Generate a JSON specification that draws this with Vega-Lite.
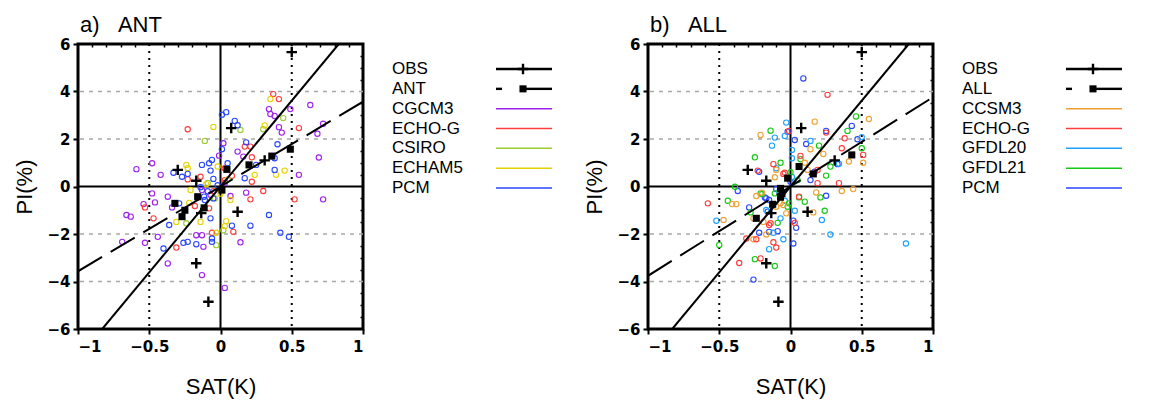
{
"$schema": "https://vega.github.io/schema/vega-lite/v6.json",
"background": "white",
"padding": {"left": 12, "top": 12, "right": 5, "bottom": 2},
"config": {
  "font": "Liberation Sans",
  "view": {"stroke": "black", "strokeWidth": 3},
  "axis": {"domain": false, "grid": false, "labelFont": "DejaVu Sans", "labelFontWeight": "bold", "labelFontSize": 15, "labelColor": "black", "tickColor": "black", "tickWidth": 2, "tickSize": 5, "titleFont": "Liberation Sans", "titleFontSize": 22, "titleFontWeight": "normal", "titleColor": "black"},
  "title": {"font": "Liberation Sans", "fontSize": 22, "fontWeight": "normal", "anchor": "start", "color": "black", "frame": "group"}
},
"datasets": {
  "obs": [
    {"x":0.5,"y":5.66},{"x":0.075,"y":2.46},{"x":-0.30,"y":0.70},{"x":-0.17,"y":0.24},{"x":0.31,"y":1.10},
    {"x":-0.135,"y":-1.12},{"x":0.12,"y":-1.06},{"x":-0.17,"y":-3.23},{"x":-0.085,"y":-4.85}
  ],
  "sqa": [
    {"x":0.49,"y":1.57},{"x":0.36,"y":1.28},{"x":0.20,"y":0.91},{"x":0.045,"y":0.72},{"x":0.01,"y":-0.15},
    {"x":-0.16,"y":-0.43},{"x":-0.115,"y":-0.9},{"x":-0.32,"y":-0.71},{"x":-0.25,"y":-1.0},{"x":-0.27,"y":-1.27}
  ],
  "sqb": [
    {"x":0.43,"y":1.33},{"x":0.16,"y":0.53},{"x":0.06,"y":0.84},{"x":-0.02,"y":0.35},{"x":-0.07,"y":-0.08},
    {"x":-0.06,"y":-0.3},{"x":-0.07,"y":-0.45},{"x":-0.125,"y":-0.75},{"x":-0.24,"y":-1.34}
  ],
  "fitobs": [{"x":-0.83,"y":-6},{"x":0.83,"y":6}],
  "fita": [{"x":-1,"y":-3.57},{"x":1,"y":3.57}],
  "fitb": [{"x":-1,"y":-3.76},{"x":1,"y":3.76}],
  "hgrid": [{"x":0,"y":-4},{"x":0,"y":-2},{"x":0,"y":2},{"x":0,"y":4}],
  "vgrid": [{"x":-0.5,"y":0},{"x":0.5,"y":0}],
  "zero": [{"x":0,"y":0}],
  "pa": [
    {"m":"CGCM3","x":-0.59,"y":0.73},{"m":"CGCM3","x":-0.48,"y":0.98},{"m":"CGCM3","x":-0.42,"y":0.49},{"m":"CGCM3","x":0.02,"y":1.82},{"m":"CGCM3","x":-0.01,"y":1.30},{"m":"CGCM3","x":0.12,"y":1.47},{"m":"CGCM3","x":0.16,"y":1.26},{"m":"CGCM3","x":0.34,"y":3.26},{"m":"CGCM3","x":0.35,"y":3.05},{"m":"CGCM3","x":0.38,"y":2.97},{"m":"CGCM3","x":0.49,"y":3.26},{"m":"CGCM3","x":0.63,"y":3.43},{"m":"CGCM3","x":0.72,"y":2.64},{"m":"CGCM3","x":0.68,"y":2.22},{"m":"CGCM3","x":0.41,"y":2.50},{"m":"CGCM3","x":0.43,"y":2.27},{"m":"CGCM3","x":0.69,"y":1.22},{"m":"CGCM3","x":0.55,"y":0.49},{"m":"CGCM3","x":0.18,"y":-0.26},{"m":"CGCM3","x":-0.48,"y":-0.29},{"m":"CGCM3","x":-0.37,"y":-0.43},{"m":"CGCM3","x":-0.54,"y":-0.74},{"m":"CGCM3","x":-0.46,"y":-0.67},{"m":"CGCM3","x":-0.66,"y":-1.20},{"m":"CGCM3","x":-0.63,"y":-1.27},{"m":"CGCM3","x":-0.69,"y":-2.33},{"m":"CGCM3","x":-0.53,"y":-2.37},{"m":"CGCM3","x":-0.44,"y":-2.12},{"m":"CGCM3","x":-0.34,"y":-0.88},{"m":"CGCM3","x":-0.17,"y":-2.05},{"m":"CGCM3","x":-0.13,"y":-2.05},{"m":"CGCM3","x":-0.12,"y":-2.54},{"m":"CGCM3","x":-0.37,"y":-3.24},{"m":"CGCM3","x":-0.13,"y":-3.73},{"m":"CGCM3","x":0.03,"y":-4.27},{"m":"CGCM3","x":0.14,"y":-2.35},{"m":"CGCM3","x":0.07,"y":-0.40},{"m":"CGCM3","x":0.72,"y":-0.54},{"m":"CGCM3","x":-0.07,"y":-0.35},{"m":"CGCM3","x":-0.13,"y":-0.15},{"m":"CGCM3","x":0.03,"y":0.15},
    {"m":"ECHO-G","x":-0.23,"y":2.41},{"m":"ECHO-G","x":0.37,"y":3.89},{"m":"ECHO-G","x":0.41,"y":3.68},{"m":"ECHO-G","x":0.55,"y":2.46},{"m":"ECHO-G","x":0.17,"y":1.68},{"m":"ECHO-G","x":0.21,"y":1.68},{"m":"ECHO-G","x":0.22,"y":1.23},{"m":"ECHO-G","x":0.22,"y":0.20},{"m":"ECHO-G","x":0.30,"y":-0.19},{"m":"ECHO-G","x":0.03,"y":0.27},{"m":"ECHO-G","x":-0.14,"y":0.41},{"m":"ECHO-G","x":-0.53,"y":-0.88},{"m":"ECHO-G","x":-0.47,"y":-1.34},{"m":"ECHO-G","x":-0.31,"y":-2.57},{"m":"ECHO-G","x":-0.18,"y":-0.82},{"m":"ECHO-G","x":-0.08,"y":-0.92},{"m":"ECHO-G","x":-0.06,"y":-1.95},{"m":"ECHO-G","x":0.09,"y":-1.91},{"m":"ECHO-G","x":0.21,"y":-0.54},{"m":"ECHO-G","x":0.52,"y":-0.54},{"m":"ECHO-G","x":0.03,"y":0.77},{"m":"ECHO-G","x":-0.05,"y":-0.2},{"m":"ECHO-G","x":0.08,"y":0.45},{"m":"ECHO-G","x":-0.23,"y":0.30},
    {"m":"CSIRO","x":-0.11,"y":1.92},{"m":"CSIRO","x":0.14,"y":2.38},{"m":"CSIRO","x":0.30,"y":2.41},{"m":"CSIRO","x":0.44,"y":2.88},{"m":"CSIRO","x":-0.03,"y":-2.47},{"m":"CSIRO","x":0.02,"y":-1.84},{"m":"CSIRO","x":-0.24,"y":-1.55},{"m":"CSIRO","x":-0.09,"y":0.15},{"m":"CSIRO","x":0.05,"y":0.3},{"m":"CSIRO","x":-0.04,"y":-0.5},
    {"m":"ECHAM5","x":-0.05,"y":2.51},{"m":"ECHAM5","x":0.35,"y":3.68},{"m":"ECHAM5","x":0.31,"y":2.57},{"m":"ECHAM5","x":0.24,"y":0.49},{"m":"ECHAM5","x":0.39,"y":0.49},{"m":"ECHAM5","x":0.45,"y":0.67},{"m":"ECHAM5","x":-0.24,"y":0.91},{"m":"ECHAM5","x":-0.23,"y":0.77},{"m":"ECHAM5","x":-0.02,"y":0.84},{"m":"ECHAM5","x":0.07,"y":-0.57},{"m":"ECHAM5","x":-0.14,"y":-1.49},{"m":"ECHAM5","x":-0.31,"y":-1.49},{"m":"ECHAM5","x":-0.03,"y":-1.95},{"m":"ECHAM5","x":0.04,"y":-1.46},{"m":"ECHAM5","x":0.03,"y":-1.67},{"m":"ECHAM5","x":-0.21,"y":-0.15},{"m":"ECHAM5","x":-0.22,"y":-0.69},{"m":"ECHAM5","x":0.0,"y":-0.3},{"m":"ECHAM5","x":-0.1,"y":0.1},
    {"m":"PCM","x":0.01,"y":3.02},{"m":"PCM","x":0.04,"y":3.13},{"m":"PCM","x":0.10,"y":2.76},{"m":"PCM","x":0.12,"y":2.58},{"m":"PCM","x":0.01,"y":1.57},{"m":"PCM","x":0.18,"y":1.86},{"m":"PCM","x":0.40,"y":1.78},{"m":"PCM","x":0.38,"y":1.19},{"m":"PCM","x":0.38,"y":0.70},{"m":"PCM","x":0.17,"y":0.35},{"m":"PCM","x":-0.33,"y":0.58},{"m":"PCM","x":-0.27,"y":0.41},{"m":"PCM","x":-0.23,"y":0.53},{"m":"PCM","x":-0.13,"y":0.91},{"m":"PCM","x":-0.08,"y":0.98},{"m":"PCM","x":-0.06,"y":1.12},{"m":"PCM","x":-0.07,"y":0.67},{"m":"PCM","x":-0.05,"y":0.32},{"m":"PCM","x":0.05,"y":0.98},{"m":"PCM","x":-0.14,"y":-0.03},{"m":"PCM","x":0.25,"y":0.91},{"m":"PCM","x":-0.36,"y":-1.62},{"m":"PCM","x":-0.40,"y":-2.61},{"m":"PCM","x":-0.26,"y":-2.37},{"m":"PCM","x":-0.23,"y":-2.33},{"m":"PCM","x":-0.17,"y":-2.43},{"m":"PCM","x":-0.06,"y":-2.19},{"m":"PCM","x":-0.06,"y":-2.33},{"m":"PCM","x":-0.07,"y":-1.34},{"m":"PCM","x":0.08,"y":-1.65},{"m":"PCM","x":0.21,"y":-1.65},{"m":"PCM","x":0.34,"y":-1.20},{"m":"PCM","x":0.42,"y":-1.95},{"m":"PCM","x":0.48,"y":-2.12},{"m":"PCM","x":-0.29,"y":-0.71},{"m":"PCM","x":-0.11,"y":-0.57},{"m":"PCM","x":-0.05,"y":-0.50},{"m":"PCM","x":-0.115,"y":-0.43},{"m":"PCM","x":-0.09,"y":-0.2},{"m":"PCM","x":-0.02,"y":0.05}
  ],
  "pb": [
    {"m":"PCM","x":0.09,"y":4.55},{"m":"PCM","x":0.25,"y":2.34},{"m":"PCM","x":0.03,"y":1.96},{"m":"PCM","x":0.11,"y":1.79},{"m":"PCM","x":0.43,"y":2.55},{"m":"PCM","x":0.47,"y":1.99},{"m":"PCM","x":0.33,"y":0.94},{"m":"PCM","x":0.14,"y":0.27},{"m":"PCM","x":0.25,"y":-0.39},{"m":"PCM","x":-0.37,"y":-0.19},{"m":"PCM","x":-0.22,"y":0.62},{"m":"PCM","x":-0.02,"y":2.31},{"m":"PCM","x":-0.26,"y":-3.92},{"m":"PCM","x":0.02,"y":-2.40},{"m":"PCM","x":-0.22,"y":-1.95},{"m":"PCM","x":-0.15,"y":-1.91},{"m":"PCM","x":-0.09,"y":-1.88},{"m":"PCM","x":0.04,"y":-1.74},{"m":"PCM","x":-0.29,"y":-0.88},{"m":"PCM","x":-0.17,"y":-0.50},{"m":"PCM","x":-0.18,"y":-0.46},{"m":"PCM","x":0.17,"y":0.62},{"m":"PCM","x":-0.16,"y":-1.06},{"m":"PCM","x":-0.15,"y":-0.57},{"m":"PCM","x":0.02,"y":-1.44},{"m":"PCM","x":-0.1,"y":-0.1},{"m":"PCM","x":0.0,"y":0.2},
    {"m":"GFDL20","x":-0.03,"y":2.69},{"m":"GFDL20","x":-0.11,"y":2.06},{"m":"GFDL20","x":-0.13,"y":1.72},{"m":"GFDL20","x":-0.04,"y":2.13},{"m":"GFDL20","x":0.01,"y":1.54},{"m":"GFDL20","x":0.50,"y":2.08},{"m":"GFDL20","x":0.14,"y":1.92},{"m":"GFDL20","x":-0.10,"y":0.77},{"m":"GFDL20","x":0.01,"y":1.19},{"m":"GFDL20","x":0.34,"y":0.96},{"m":"GFDL20","x":-0.52,"y":-1.44},{"m":"GFDL20","x":-0.15,"y":-2.64},{"m":"GFDL20","x":-0.05,"y":-2.22},{"m":"GFDL20","x":-0.12,"y":-1.95},{"m":"GFDL20","x":0.03,"y":-1.02},{"m":"GFDL20","x":0.22,"y":-1.41},{"m":"GFDL20","x":0.28,"y":-2.02},{"m":"GFDL20","x":0.81,"y":-2.40},{"m":"GFDL20","x":-0.17,"y":-0.99},{"m":"GFDL20","x":-0.07,"y":-1.34},{"m":"GFDL20","x":-0.08,"y":-0.22},{"m":"GFDL20","x":0.01,"y":0.4},{"m":"GFDL20","x":-0.04,"y":-0.6},
    {"m":"GFDL21","x":-0.14,"y":2.35},{"m":"GFDL21","x":-0.25,"y":1.23},{"m":"GFDL21","x":-0.07,"y":1.0},{"m":"GFDL21","x":0.46,"y":2.95},{"m":"GFDL21","x":0.40,"y":2.34},{"m":"GFDL21","x":0.20,"y":1.72},{"m":"GFDL21","x":0.50,"y":1.61},{"m":"GFDL21","x":0.28,"y":0.84},{"m":"GFDL21","x":0.25,"y":0.46},{"m":"GFDL21","x":0.07,"y":1.15},{"m":"GFDL21","x":-0.39,"y":-0.01},{"m":"GFDL21","x":-0.44,"y":-0.60},{"m":"GFDL21","x":-0.50,"y":-2.46},{"m":"GFDL21","x":-0.25,"y":-3.06},{"m":"GFDL21","x":-0.11,"y":-3.35},{"m":"GFDL21","x":-0.09,"y":-1.53},{"m":"GFDL21","x":0.10,"y":-0.64},{"m":"GFDL21","x":0.21,"y":-0.46},{"m":"GFDL21","x":0.24,"y":-1.02},{"m":"GFDL21","x":-0.20,"y":-0.32},{"m":"GFDL21","x":0.06,"y":-0.46},{"m":"GFDL21","x":-0.02,"y":-0.85},{"m":"GFDL21","x":0.05,"y":0.27},{"m":"GFDL21","x":-0.28,"y":-1.09},{"m":"GFDL21","x":-0.21,"y":-0.29},{"m":"GFDL21","x":-0.11,"y":-0.29},{"m":"GFDL21","x":-0.01,"y":-0.71},{"m":"GFDL21","x":0.0,"y":0.6},
    {"m":"CCSM3","x":-0.21,"y":2.17},{"m":"CCSM3","x":0.17,"y":2.73},{"m":"CCSM3","x":0.55,"y":2.84},{"m":"CCSM3","x":0.23,"y":1.37},{"m":"CCSM3","x":0.14,"y":1.57},{"m":"CCSM3","x":0.41,"y":1.05},{"m":"CCSM3","x":0.51,"y":1.00},{"m":"CCSM3","x":0.18,"y":-0.25},{"m":"CCSM3","x":0.36,"y":-0.19},{"m":"CCSM3","x":0.44,"y":-0.11},{"m":"CCSM3","x":-0.11,"y":0.39},{"m":"CCSM3","x":0.10,"y":1.0},{"m":"CCSM3","x":-0.47,"y":-1.41},{"m":"CCSM3","x":-0.41,"y":-0.74},{"m":"CCSM3","x":-0.38,"y":-0.74},{"m":"CCSM3","x":0.16,"y":-1.09},{"m":"CCSM3","x":-0.05,"y":-0.78},{"m":"CCSM3","x":-0.03,"y":-1.13},{"m":"CCSM3","x":-0.19,"y":-1.49},{"m":"CCSM3","x":-0.24,"y":-0.40},{"m":"CCSM3","x":-0.17,"y":-2.02},{"m":"CCSM3","x":-0.20,"y":-0.26},{"m":"CCSM3","x":-0.10,"y":0.70},{"m":"CCSM3","x":0.12,"y":0.70},{"m":"CCSM3","x":-0.26,"y":-2.22},{"m":"CCSM3","x":-0.26,"y":-1.34},{"m":"CCSM3","x":-0.10,"y":-0.85},{"m":"CCSM3","x":-0.07,"y":-0.7},
    {"m":"ECHO-G","x":0.26,"y":3.86},{"m":"ECHO-G","x":0.25,"y":2.27},{"m":"ECHO-G","x":0.38,"y":2.03},{"m":"ECHO-G","x":0.36,"y":1.61},{"m":"ECHO-G","x":0.51,"y":1.33},{"m":"ECHO-G","x":0.07,"y":1.29},{"m":"ECHO-G","x":-0.01,"y":2.34},{"m":"ECHO-G","x":-0.12,"y":0.94},{"m":"ECHO-G","x":-0.23,"y":0.67},{"m":"ECHO-G","x":0.34,"y":0.14},{"m":"ECHO-G","x":0.19,"y":0.14},{"m":"ECHO-G","x":-0.04,"y":0.58},{"m":"ECHO-G","x":-0.58,"y":-0.71},{"m":"ECHO-G","x":-0.36,"y":-3.22},{"m":"ECHO-G","x":-0.21,"y":-3.03},{"m":"ECHO-G","x":-0.31,"y":-2.19},{"m":"ECHO-G","x":-0.24,"y":-2.22},{"m":"ECHO-G","x":-0.10,"y":-2.57},{"m":"ECHO-G","x":-0.12,"y":-2.35},{"m":"ECHO-G","x":0.03,"y":-1.53},{"m":"ECHO-G","x":-0.15,"y":-1.62},{"m":"ECHO-G","x":-0.05,"y":0.53},{"m":"ECHO-G","x":0.06,"y":-0.43},{"m":"ECHO-G","x":0.19,"y":0.70},{"m":"ECHO-G","x":-0.14,"y":-1.55}
  ],
  "lega": [{"label":"OBS","kind":"obs"},{"label":"ANT","kind":"fit"},{"label":"CGCM3","kind":"model"},{"label":"ECHO-G","kind":"model"},{"label":"CSIRO","kind":"model"},{"label":"ECHAM5","kind":"model"},{"label":"PCM","kind":"model"}],
  "legb": [{"label":"OBS","kind":"obs"},{"label":"ALL","kind":"fit"},{"label":"CCSM3","kind":"model"},{"label":"ECHO-G","kind":"model"},{"label":"GFDL20","kind":"model"},{"label":"GFDL21","kind":"model"},{"label":"PCM","kind":"model"}]
},
"spacing": 23,
"bounds": "flush",
"hconcat": [
  {"width": 285, "height": 285,
   "title": {"text": "a)\u00a0\u00a0\u00a0ANT", "offset": 0, "dx": 2},
   "resolve": {"axis": {"x": "independent", "y": "independent"}},
   "encoding": {
     "x": {"field": "x", "type": "quantitative", "scale": {"domain": [-1, 1], "nice": false}, "axis": null},
     "y": {"field": "y", "type": "quantitative", "scale": {"domain": [-6, 6], "nice": false}, "axis": null}
   },
   "layer": [
    {"data": {"name": "hgrid"}, "mark": {"type": "rule", "color": "#a8a8a8", "strokeDash": [4, 5], "strokeWidth": 1.5},
     "encoding": {"x": null, "y": {"field": "y", "type": "quantitative", "axis": {"orient": "right", "values": [-5.5,-5,-4.5,-3.5,-3,-2.5,-1.5,-1,-0.5,0.5,1,1.5,2.5,3,3.5,4.5,5,5.5], "labels": false, "title": null, "tickSize": -3, "tickWidth": 1.5}}}},
    {"data": {"name": "vgrid"}, "mark": {"type": "rule", "color": "black", "strokeDash": [2, 5], "strokeWidth": 2},
     "encoding": {"y": null, "x": {"field": "x", "type": "quantitative", "axis": {"orient": "top", "values": [-0.9,-0.8,-0.7,-0.6,-0.4,-0.3,-0.2,-0.1,0.1,0.2,0.3,0.4,0.6,0.7,0.8,0.9], "labels": false, "title": null, "tickSize": -3, "tickWidth": 1.5}}}},
    {"data": {"name": "zero"}, "mark": {"type": "rule", "color": "black", "strokeWidth": 2}, "encoding": {"y": null}},
    {"data": {"name": "zero"}, "mark": {"type": "rule", "color": "black", "strokeWidth": 2}, "encoding": {"x": null}},
    {"data": {"name": "pa"}, "mark": {"type": "point", "filled": false, "size": 28, "strokeWidth": 1.1, "opacity": 1},
     "encoding": {
      "x": {"field": "x", "type": "quantitative", "axis": {"title": "SAT(K)", "values": [-1, -0.5, 0, 0.5, 1], "format": "~g", "labelPadding": 5, "titlePadding": 22}},
      "y": {"field": "y", "type": "quantitative", "axis": {"title": "PI(%)", "values": [-6, -4, -2, 0, 2, 4, 6], "format": "~g", "labelPadding": 3, "titlePadding": 10}},
      "color": {"field": "m", "type": "nominal", "legend": null, "scale": {"domain": ["CGCM3", "ECHO-G", "CSIRO", "ECHAM5", "PCM", "CCSM3", "GFDL20", "GFDL21"], "range": ["#a020f0", "#ff3c3c", "#9acd32", "#e6d200", "#2846ff", "#f0a030", "#1ea0ff", "#14c814"]}}}},
    {"data": {"name": "fitobs"}, "mark": {"type": "line", "color": "black", "strokeWidth": 2, "clip": true}},
    {"data": {"name": "fita"}, "mark": {"type": "line", "color": "black", "strokeWidth": 2, "strokeDash": [28, 10], "clip": true}},
    {"data": {"name": "sqa"}, "mark": {"type": "point", "shape": "square", "filled": true, "size": 50, "color": "black", "opacity": 1}},
    {"data": {"name": "obs"}, "mark": {"type": "point", "shape": "M-1,0H1M0,-1V1", "filled": false, "size": 110, "strokeWidth": 2.4, "color": "black", "opacity": 1}}
   ]},
  {"width": 239, "height": 169,
   "view": {"stroke": null},
   "data": {"name": "lega"},
   "encoding": {"y": {"field": "label", "type": "ordinal", "axis": null, "scale": {"type": "band", "domain": ["OBS", "ANT", "CGCM3", "ECHO-G", "CSIRO", "ECHAM5", "PCM"], "paddingInner": 0, "paddingOuter": 0.763}}},
   "layer": [
    {"mark": {"type": "text", "align": "left", "baseline": "middle", "fontSize": 17, "font": "Liberation Sans", "color": "black"},
     "encoding": {"x": {"datum": 6, "type": "quantitative", "scale": {"domain": [0, 239]}, "axis": null}, "text": {"field": "label"}}},
    {"transform": [{"filter": "datum.kind === 'model'"}], "mark": {"type": "rule", "strokeWidth": 1.5},
     "encoding": {"x": {"datum": 110, "type": "quantitative", "scale": {"domain": [0, 239]}, "axis": null}, "x2": {"datum": 166}, "color": {"field": "label", "type": "nominal", "legend": null, "scale": {"domain": ["CGCM3", "ECHO-G", "CSIRO", "ECHAM5", "PCM", "CCSM3", "GFDL20", "GFDL21"], "range": ["#a020f0", "#ff3c3c", "#9acd32", "#e6d200", "#2846ff", "#f0a030", "#1ea0ff", "#14c814"]}}}},
    {"transform": [{"filter": "datum.kind === 'obs'"}], "mark": {"type": "rule", "strokeWidth": 2.4, "color": "black"},
     "encoding": {"x": {"datum": 110, "type": "quantitative", "scale": {"domain": [0, 239]}, "axis": null}, "x2": {"datum": 166}}},
    {"transform": [{"filter": "datum.kind === 'obs'"}], "mark": {"type": "point", "shape": "M-1,0H1M0,-1V1", "filled": false, "size": 110, "strokeWidth": 2.4, "color": "black", "opacity": 1},
     "encoding": {"x": {"datum": 137, "type": "quantitative", "scale": {"domain": [0, 239]}, "axis": null}}},
    {"transform": [{"filter": "datum.kind === 'fit'"}], "mark": {"type": "rule", "strokeWidth": 2.4, "color": "black"},
     "encoding": {"x": {"datum": 110, "type": "quantitative", "scale": {"domain": [0, 239]}, "axis": null}, "x2": {"datum": 116}}},
    {"transform": [{"filter": "datum.kind === 'fit'"}], "mark": {"type": "rule", "strokeWidth": 2.4, "color": "black"},
     "encoding": {"x": {"datum": 140, "type": "quantitative", "scale": {"domain": [0, 239]}, "axis": null}, "x2": {"datum": 166}}},
    {"transform": [{"filter": "datum.kind === 'fit'"}], "mark": {"type": "point", "shape": "square", "filled": true, "size": 50, "color": "black", "opacity": 1},
     "encoding": {"x": {"datum": 137, "type": "quantitative", "scale": {"domain": [0, 239]}, "axis": null}}}
   ]},
  {"width": 285, "height": 285,
   "title": {"text": "b)\u00a0\u00a0\u00a0ALL", "offset": 0, "dx": 2},
   "resolve": {"axis": {"x": "independent", "y": "independent"}},
   "encoding": {
     "x": {"field": "x", "type": "quantitative", "scale": {"domain": [-1, 1], "nice": false}, "axis": null},
     "y": {"field": "y", "type": "quantitative", "scale": {"domain": [-6, 6], "nice": false}, "axis": null}
   },
   "layer": [
    {"data": {"name": "hgrid"}, "mark": {"type": "rule", "color": "#a8a8a8", "strokeDash": [4, 5], "strokeWidth": 1.5},
     "encoding": {"x": null, "y": {"field": "y", "type": "quantitative", "axis": {"orient": "right", "values": [-5.5,-5,-4.5,-3.5,-3,-2.5,-1.5,-1,-0.5,0.5,1,1.5,2.5,3,3.5,4.5,5,5.5], "labels": false, "title": null, "tickSize": -3, "tickWidth": 1.5}}}},
    {"data": {"name": "vgrid"}, "mark": {"type": "rule", "color": "black", "strokeDash": [2, 5], "strokeWidth": 2},
     "encoding": {"y": null, "x": {"field": "x", "type": "quantitative", "axis": {"orient": "top", "values": [-0.9,-0.8,-0.7,-0.6,-0.4,-0.3,-0.2,-0.1,0.1,0.2,0.3,0.4,0.6,0.7,0.8,0.9], "labels": false, "title": null, "tickSize": -3, "tickWidth": 1.5}}}},
    {"data": {"name": "zero"}, "mark": {"type": "rule", "color": "black", "strokeWidth": 2}, "encoding": {"y": null}},
    {"data": {"name": "zero"}, "mark": {"type": "rule", "color": "black", "strokeWidth": 2}, "encoding": {"x": null}},
    {"data": {"name": "pb"}, "mark": {"type": "point", "filled": false, "size": 28, "strokeWidth": 1.1, "opacity": 1},
     "encoding": {
      "x": {"field": "x", "type": "quantitative", "axis": {"title": "SAT(K)", "values": [-1, -0.5, 0, 0.5, 1], "format": "~g", "labelPadding": 5, "titlePadding": 22}},
      "y": {"field": "y", "type": "quantitative", "axis": {"title": "PI(%)", "values": [-6, -4, -2, 0, 2, 4, 6], "format": "~g", "labelPadding": 3, "titlePadding": 10}},
      "color": {"field": "m", "type": "nominal", "legend": null, "scale": {"domain": ["CGCM3", "ECHO-G", "CSIRO", "ECHAM5", "PCM", "CCSM3", "GFDL20", "GFDL21"], "range": ["#a020f0", "#ff3c3c", "#9acd32", "#e6d200", "#2846ff", "#f0a030", "#1ea0ff", "#14c814"]}}}},
    {"data": {"name": "fitobs"}, "mark": {"type": "line", "color": "black", "strokeWidth": 2, "clip": true}},
    {"data": {"name": "fitb"}, "mark": {"type": "line", "color": "black", "strokeWidth": 2, "strokeDash": [28, 10], "clip": true}},
    {"data": {"name": "sqb"}, "mark": {"type": "point", "shape": "square", "filled": true, "size": 50, "color": "black", "opacity": 1}},
    {"data": {"name": "obs"}, "mark": {"type": "point", "shape": "M-1,0H1M0,-1V1", "filled": false, "size": 110, "strokeWidth": 2.4, "color": "black", "opacity": 1}}
   ]},
  {"width": 170, "height": 169,
   "view": {"stroke": null},
   "data": {"name": "legb"},
   "encoding": {"y": {"field": "label", "type": "ordinal", "axis": null, "scale": {"type": "band", "domain": ["OBS", "ALL", "CCSM3", "ECHO-G", "GFDL20", "GFDL21", "PCM"], "paddingInner": 0, "paddingOuter": 0.763}}},
   "layer": [
    {"mark": {"type": "text", "align": "left", "baseline": "middle", "fontSize": 17, "font": "Liberation Sans", "color": "black"},
     "encoding": {"x": {"datum": 6, "type": "quantitative", "scale": {"domain": [0, 170]}, "axis": null}, "text": {"field": "label"}}},
    {"transform": [{"filter": "datum.kind === 'model'"}], "mark": {"type": "rule", "strokeWidth": 1.5},
     "encoding": {"x": {"datum": 110, "type": "quantitative", "scale": {"domain": [0, 170]}, "axis": null}, "x2": {"datum": 166}, "color": {"field": "label", "type": "nominal", "legend": null, "scale": {"domain": ["CGCM3", "ECHO-G", "CSIRO", "ECHAM5", "PCM", "CCSM3", "GFDL20", "GFDL21"], "range": ["#a020f0", "#ff3c3c", "#9acd32", "#e6d200", "#2846ff", "#f0a030", "#1ea0ff", "#14c814"]}}}},
    {"transform": [{"filter": "datum.kind === 'obs'"}], "mark": {"type": "rule", "strokeWidth": 2.4, "color": "black"},
     "encoding": {"x": {"datum": 110, "type": "quantitative", "scale": {"domain": [0, 170]}, "axis": null}, "x2": {"datum": 166}}},
    {"transform": [{"filter": "datum.kind === 'obs'"}], "mark": {"type": "point", "shape": "M-1,0H1M0,-1V1", "filled": false, "size": 110, "strokeWidth": 2.4, "color": "black", "opacity": 1},
     "encoding": {"x": {"datum": 137, "type": "quantitative", "scale": {"domain": [0, 170]}, "axis": null}}},
    {"transform": [{"filter": "datum.kind === 'fit'"}], "mark": {"type": "rule", "strokeWidth": 2.4, "color": "black"},
     "encoding": {"x": {"datum": 110, "type": "quantitative", "scale": {"domain": [0, 170]}, "axis": null}, "x2": {"datum": 116}}},
    {"transform": [{"filter": "datum.kind === 'fit'"}], "mark": {"type": "rule", "strokeWidth": 2.4, "color": "black"},
     "encoding": {"x": {"datum": 140, "type": "quantitative", "scale": {"domain": [0, 170]}, "axis": null}, "x2": {"datum": 166}}},
    {"transform": [{"filter": "datum.kind === 'fit'"}], "mark": {"type": "point", "shape": "square", "filled": true, "size": 50, "color": "black", "opacity": 1},
     "encoding": {"x": {"datum": 137, "type": "quantitative", "scale": {"domain": [0, 170]}, "axis": null}}}
   ]}
]
}
